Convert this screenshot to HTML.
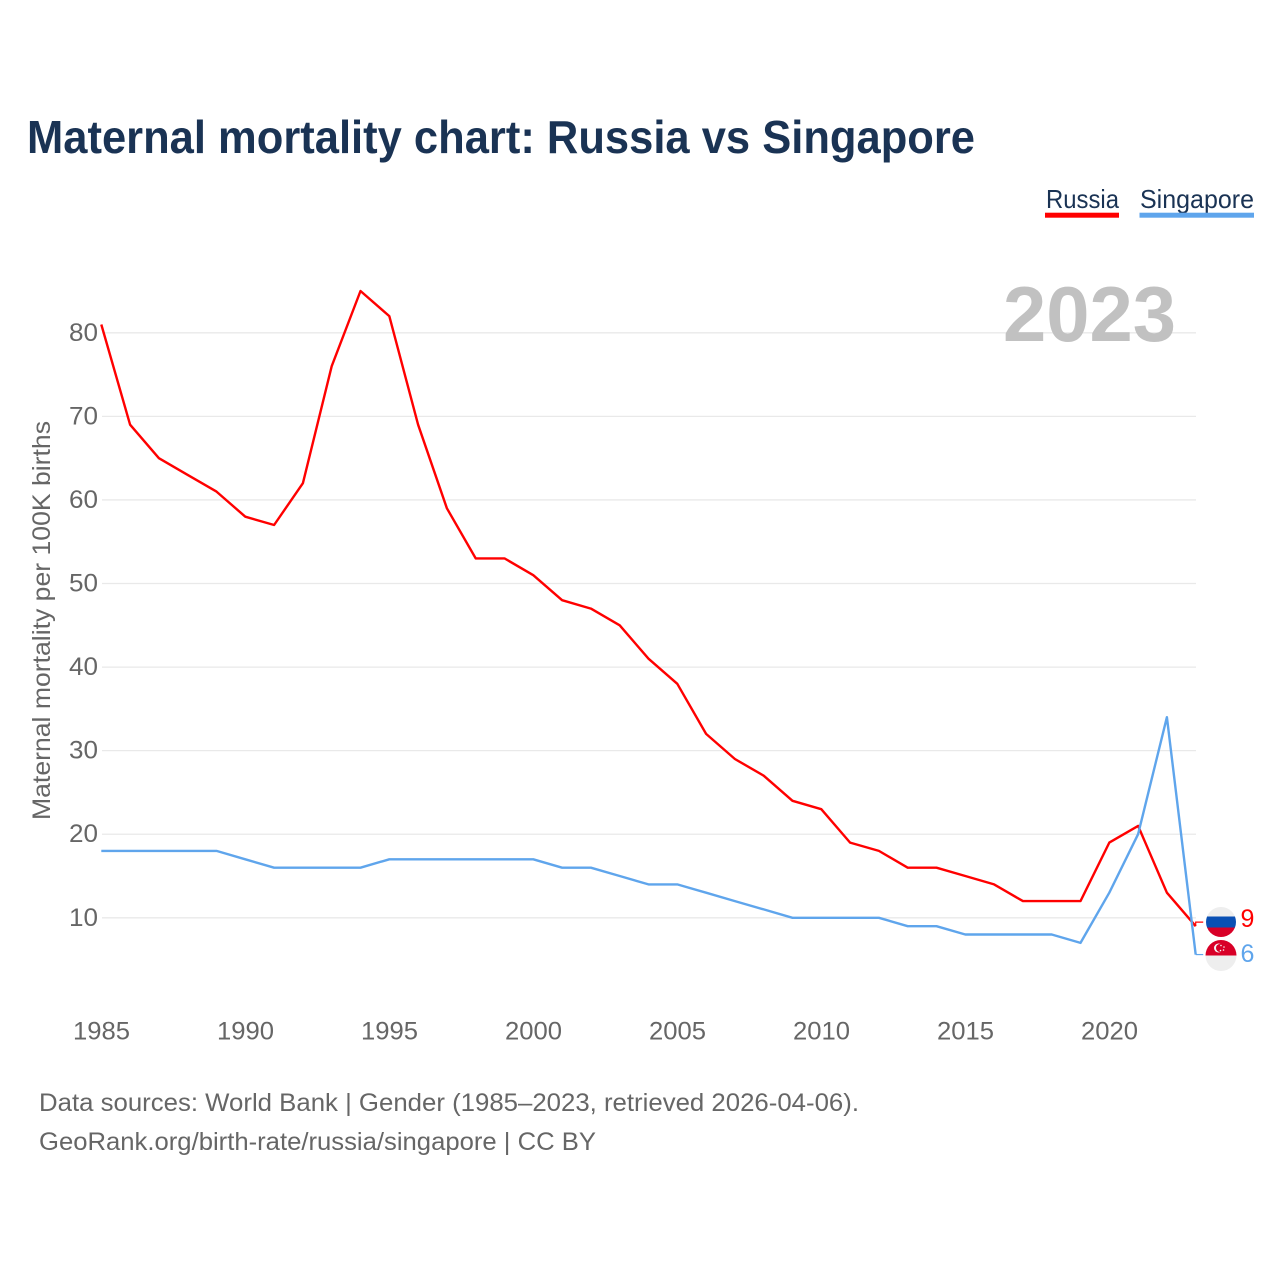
<!DOCTYPE html>
<html lang="en">
<head>
<meta charset="utf-8">
<title>Maternal mortality chart: Russia vs Singapore</title>
<style>
html,body{margin:0;padding:0;background:#fff;width:1280px;height:1280px;overflow:hidden}
svg{display:block}
text{font-family:"Liberation Sans",Arial,sans-serif}
</style>
</head>
<body>
<svg id="chart" width="1280" height="1280" viewBox="0 0 1280 1280" xmlns="http://www.w3.org/2000/svg">
<defs>
<clipPath id="flag-clip-ru"><circle cx="1221" cy="922" r="15"/></clipPath>
<clipPath id="flag-clip-sg"><circle cx="1221" cy="955.5" r="15.5"/></clipPath>
</defs>
<text x="27" y="153" font-size="46" font-weight="700" fill="#1a3354" textLength="948" lengthAdjust="spacingAndGlyphs">Maternal mortality chart: Russia vs Singapore</text>
<text x="1046" y="208" font-size="26" fill="#1a3354" textLength="73" lengthAdjust="spacingAndGlyphs">Russia</text>
<rect x="1045" y="212.7" width="74" height="5" fill="#ff0000"/>
<text x="1140" y="208" font-size="26" fill="#1a3354" textLength="114" lengthAdjust="spacingAndGlyphs">Singapore</text>
<rect x="1139.500" y="212.7" width="114.500" height="5" fill="#5fa5ec"/>
<g id="grid"></g>
<text x="1003" y="341" font-size="78" font-weight="700" fill="#c1c1c1" textLength="173" lengthAdjust="spacingAndGlyphs">2023</text>
<g id="y-ticks"></g>
<g id="x-ticks"></g>
<text transform="translate(50 820) rotate(-90)" font-size="25" fill="#666666" textLength="399" lengthAdjust="spacingAndGlyphs">Maternal mortality per 100K births</text>
<g id="series"></g>
<g clip-path="url(#flag-clip-ru)">
<rect x="1205" y="906" width="32" height="10.500" fill="#eeeeee"/>
<rect x="1205" y="916.500" width="32" height="11" fill="#0a50b4"/>
<rect x="1205" y="927.500" width="32" height="11" fill="#d80027"/>
</g>
<g clip-path="url(#flag-clip-sg)">
<rect x="1205" y="939" width="32" height="16.500" fill="#d80027"/>
<rect x="1205" y="955.500" width="32" height="17" fill="#eeeeee"/>
<circle cx="1218.500" cy="948" r="4.500" fill="#f5f5f5"/>
<circle cx="1220" cy="948" r="4" fill="#d80027"/>
<circle cx="1221" cy="945.500" r="0.800" fill="#f5f5f5"/>
<circle cx="1224" cy="947" r="0.800" fill="#f5f5f5"/>
<circle cx="1223.500" cy="950" r="0.800" fill="#f5f5f5"/>
<circle cx="1220.500" cy="950.500" r="0.800" fill="#f5f5f5"/>
</g>
<text x="1240.500" y="927" font-size="25" fill="#ff0000">9</text>
<text x="1240.500" y="962" font-size="25" fill="#5fa5ec">6</text>
<text x="39" y="1111" font-size="25" fill="#666666" textLength="820" lengthAdjust="spacingAndGlyphs">Data sources: World Bank | Gender (1985–2023, retrieved 2026-04-06).</text>
<text x="39" y="1150" font-size="25" fill="#666666" textLength="557" lengthAdjust="spacingAndGlyphs">GeoRank.org/birth-rate/russia/singapore | CC BY</text>
</svg>
<script>
const years = [1985,1986,1987,1988,1989,1990,1991,1992,1993,1994,1995,1996,1997,1998,1999,2000,2001,2002,2003,2004,2005,2006,2007,2008,2009,2010,2011,2012,2013,2014,2015,2016,2017,2018,2019,2020,2021,2022,2023];
const russia = [81,69,65,63,61,58,57,62,76,85,82,69,59,53,53,51,48,47,45,41,38,32,29,27,24,23,19,18,16,16,15,14,12,12,12,19,21,13,9];
const singapore = [18,18,18,18,18,17,16,16,16,16,17,17,17,17,17,17,16,16,15,14,14,13,12,11,10,10,10,10,9,9,8,8,8,8,7,13,20,34,5.6];
const yTicks = [10,20,30,40,50,60,70,80];
const xTicks = [1985,1990,1995,2000,2005,2010,2015,2020];

const NS = 'http://www.w3.org/2000/svg';
function xScale(year){ return 101.3 + (year - 1985) * 28.8; }
function yScale(v){ return 917.8 - (v - 10) * 8.357; }
function make(tag, attrs, parent){
  const el = document.createElementNS(NS, tag);
  for (const k in attrs) el.setAttribute(k, attrs[k]);
  parent.appendChild(el);
  return el;
}
const grid = document.getElementById('grid');
const yTickGroup = document.getElementById('y-ticks');
const xTickGroup = document.getElementById('x-ticks');
const seriesGroup = document.getElementById('series');

yTicks.forEach(function(t){
  const line = make('line', {x1:102, x2:1196, y1:yScale(t), y2:yScale(t), stroke:'#e9e9e9', 'stroke-width':1.3}, grid);
  
  
  const label = make('text', {x:98, y:yScale(t)+8, 'text-anchor':'end', 'font-size':25, fill:'#666666', textLength:29, lengthAdjust:'spacingAndGlyphs'}, yTickGroup);
  
  
  label.textContent = t;
});
xTicks.forEach(function(t){
  const label = make('text', {x:xScale(t)+0.2, y:1039.5, 'text-anchor':'middle', 'font-size':25, fill:'#666666', textLength:57, lengthAdjust:'spacingAndGlyphs'}, xTickGroup);
  
  
  label.textContent = t;
});
function pathFor(values){
  return values.map(function(v, i){
    return (i ? 'L' : 'M') + xScale(years[i]).toFixed(1) + ' ' + yScale(v).toFixed(1);
  }).join(' ');
}
const russiaLine = make('path', {d:pathFor(russia), fill:'none', stroke:'#ff0000', 'stroke-width':2.4, 'stroke-linejoin':'round'}, seriesGroup);


const singaporeLine = make('path', {d:pathFor(singapore), fill:'none', stroke:'#5fa5ec', 'stroke-width':2.4, 'stroke-linejoin':'round'}, seriesGroup);



const lastX = xScale(years[years.length - 1]);
const ruY = yScale(russia[russia.length - 1]);
const sgY = yScale(singapore[singapore.length - 1]);
const ruConnector = make('path', {d:'M' + lastX + ' ' + ruY + ' V' + (ruY - 4) + ' H' + (lastX + 7.5), fill:'none', stroke:'#ff0000', 'stroke-width':1.2}, seriesGroup);


const sgConnector = make('path', {d:'M' + lastX + ' ' + sgY + ' H' + (lastX + 7.5), fill:'none', stroke:'#5fa5ec', 'stroke-width':1.2}, seriesGroup);


</script>
</body>
</html>
